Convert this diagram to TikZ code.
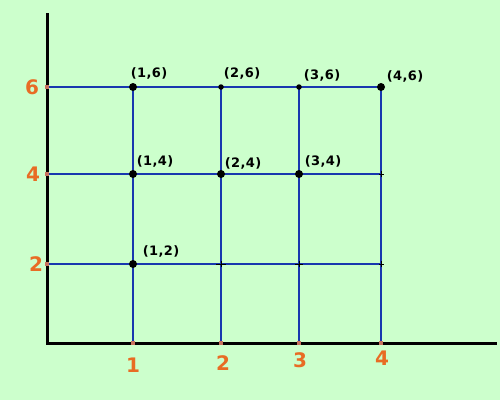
\documentclass[tikz,border=0pt]{standalone}
\usepackage{fontspec}
\setmainfont{DejaVu Sans}
\newfontfamily\labfont[LetterSpace=3]{DejaVu Sans}
\definecolor{gridblue}{RGB}{25,55,175}
\definecolor{bgreen}{RGB}{204,255,204}
\definecolor{tickbrown}{RGB}{200,115,95}
\definecolor{numorange}{RGB}{232,108,36}
\begin{document}
\begin{tikzpicture}[x=1pt,y=-1pt,
  gridline/.style={draw=gridblue, line width=1.1pt},
  axisline/.style={draw=black, line width=3pt},
  dotbig/.style={circle, fill=black, inner sep=0pt, minimum size=8pt},
  dotsmall/.style={circle, fill=black, inner sep=0pt, minimum size=5.5pt},
  tickmark/.style={rectangle, fill=tickbrown, inner sep=0pt, minimum size=4pt},
  axlabel/.style={font=\fontsize{20}{20}\selectfont\bfseries, text=numorange, inner sep=0pt},
  ptlabel/.style={font=\labfont\fontsize{13}{13}\selectfont\bfseries, text=black, inner sep=0pt},
  cross/.style={draw=black, line width=0.9pt}]
\useasboundingbox[fill=bgreen] (0,0) rectangle (500,400);
% coordinates
\coordinate (o) at (47,343);
\coordinate (ytop) at (47,13);
\coordinate (xend) at (497,343);
\coordinate (y6) at (47,87);
\coordinate (y4) at (47,174);
\coordinate (y2) at (47,264);
\coordinate (x1) at (133,343);
\coordinate (x2) at (221,343);
\coordinate (x3) at (299,343);
\coordinate (x4) at (381,343);
\coordinate (p16) at (133,87);
\coordinate (p26) at (221,87);
\coordinate (p36) at (299,87);
\coordinate (p46) at (381,87);
\coordinate (p14) at (133,174);
\coordinate (p24) at (221,174);
\coordinate (p34) at (299,174);
\coordinate (p44) at (381,174);
\coordinate (p12) at (133,264);
\coordinate (p22) at (221,264);
\coordinate (p32) at (299,264);
\coordinate (p42) at (381,264);
% grid
\draw[gridline] (y6) -- (p46);
\draw[gridline] (y4) -- (p44);
\draw[gridline] (y2) -- (p42);
\draw[gridline] (p16) -- (x1);
\draw[gridline] (p26) -- (x2);
\draw[gridline] (p36) -- (x3);
\draw[gridline] (p46) -- (x4);
% crosses
\draw[cross] ([xshift=-5pt]p22) -- ([xshift=5pt]p22) ([yshift=-3pt]p22) -- ([yshift=3pt]p22);
\draw[cross] ([xshift=-4pt]p32) -- ([xshift=4pt]p32) ([yshift=-3pt]p32) -- ([yshift=3pt]p32);
\draw[cross] ([xshift=-2pt]p42) -- ([xshift=3pt]p42) ([yshift=-3pt]p42) -- ([yshift=3pt]p42);
\draw[cross] ([xshift=-2pt]p44) -- ([xshift=3pt]p44) ([yshift=-3pt]p44) -- ([yshift=3pt]p44);
% axes
\draw[axisline] (ytop) -- (o) -- (xend);
% ticks
\foreach \c in {y6,y4,y2,x1,x2,x3,x4} \node[tickmark] (t\c) at (\c) {};
% dots
\node[dotbig] (d16) at (p16) {};
\node[dotsmall] (d26) at (p26) {};
\node[dotsmall] (d36) at (p36) {};
\node[dotbig] (d46) at (p46) {};
\node[dotbig] (d14) at (p14) {};
\node[dotbig] (d24) at (p24) {};
\node[dotbig] (d34) at (p34) {};
\node[dotbig] (d12) at (p12) {};
% point labels
\node[ptlabel] (l16) at (149,73) {(1,6)};
\node[ptlabel] (l26) at (242,73) {(2,6)};
\node[ptlabel] (l36) at (322,75) {(3,6)};
\node[ptlabel] (l46) at (405,76) {(4,6)};
\node[ptlabel] (l14) at (155,161) {(1,4)};
\node[ptlabel] (l24) at (243,163) {(2,4)};
\node[ptlabel] (l34) at (323,161) {(3,4)};
\node[ptlabel] (l12) at (161,251) {(1,2)};
% axis labels
\node[axlabel] (a6) at (32,87) {6};
\node[axlabel] (a4) at (33,174) {4};
\node[axlabel] (a2) at (36,264) {2};
\node[axlabel] (a1) at (133,365) {1};
\node[axlabel] (ax2) at (223,363) {2};
\node[axlabel] (ax3) at (300,360) {3};
\node[axlabel] (ax4) at (382,358) {4};
\end{tikzpicture}
\end{document}
